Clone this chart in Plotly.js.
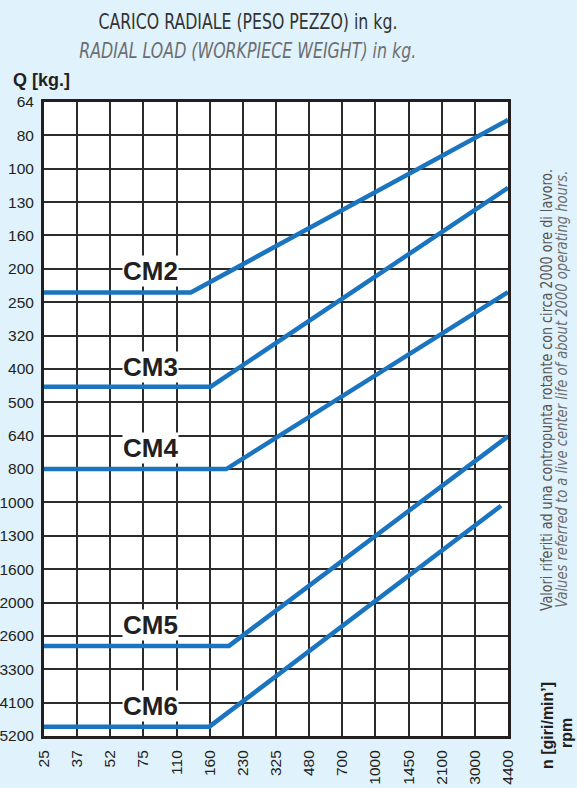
<!DOCTYPE html>
<html>
<head>
<meta charset="utf-8">
<script src="https://cdn.plot.ly/plotly-3.0.1.min.js"></script>
<style>
html,body{margin:0;padding:0;background:#e0f2fb;}
#chart{width:577px;height:788px;}
</style>
</head>
<body>
<div id="chart"></div>
<script>
// Speed ticks (rpm), evenly spaced
const rpmLabels = ['25','37','52','75','110','160','230','325','480','700','1000','1450','2100','3000','4400'];
// Load ticks (kg), evenly spaced, top to bottom
const loadLabels = ['64','80','100','130','160','200','250','320','400','500','640','800','1000','1300','1600','2000','2600','3300','4100','5200'];

// Curves, in positions on the tick scales (0 = first tick)
const cm2X = [0, 4.43, 14];
const cm2Y = [5.71, 5.71, 0.54];
const cm3X = [0, 5.03, 14];
const cm3Y = [8.53, 8.53, 2.57];
const cm4X = [0, 5.5, 14];
const cm4Y = [11.0, 11.0, 5.7];
const cm5X = [0, 5.58, 14];
const cm5Y = [16.3, 16.3, 10.02];
const cm6X = [0, 4.99, 13.79];
const cm6Y = [18.72, 18.72, 12.1];

const curveNames = ['CM2','CM3','CM4','CM5','CM6'];
const curveXs = [cm2X, cm3X, cm4X, cm5X, cm6X];
const curveYs = [cm2Y, cm3Y, cm4Y, cm5Y, cm6Y];
const labelX = [3.2, 3.2, 3.2, 3.2, 3.2];
const labelY = [5.06, 7.94, 10.37, 15.67, 18.1];

const blue = '#1a74bf';
const traces = curveNames.map((n, i) => ({
  type: 'scatter', mode: 'lines', name: n,
  x: curveXs[i], y: curveYs[i],
  line: {color: blue, width: 4.5}, hoverinfo: 'skip'
}));

const narrow = '"Liberation Sans Narrow", "DejaVu Sans Condensed", "Liberation Sans", sans-serif';
const sans = '"Liberation Sans", Arial, sans-serif';

const annotations = curveNames.map((n, i) => ({
  x: labelX[i], y: labelY[i], xref: 'x', yref: 'y',
  text: '<b>' + n + '</b>', showarrow: false,
  font: {family: sans, size: 26, color: '#231f20'},
  bgcolor: '#ffffff', borderpad: 0
}));

annotations.push(
  {xref: 'paper', yref: 'paper', x: 0.44, y: 1, yshift: 81, xanchor: 'center', yanchor: 'middle',
   text: 'CARICO RADIALE (PESO PEZZO) in kg.', showarrow: false,
   font: {family: narrow, size: 22, color: '#333333'}},
  {xref: 'paper', yref: 'paper', x: 0.44, y: 1, yshift: 52, xanchor: 'center', yanchor: 'middle',
   text: '<i>RADIAL LOAD (WORKPIECE WEIGHT) in kg.</i>', showarrow: false,
   font: {family: narrow, size: 22, color: '#6d6e71'}},
  {xref: 'paper', yref: 'paper', x: 0, xshift: -33, y: 1, yshift: 22, xanchor: 'left', yanchor: 'middle',
   text: '<b>Q [kg.]</b>', showarrow: false,
   font: {family: sans, size: 18, color: '#231f20'}},
  {xref: 'paper', yref: 'paper', x: 1, xshift: 39, y: 0.546, xanchor: 'center', yanchor: 'middle',
   text: 'Valori riferiti ad una contropunta rotante con circa 2000 ore di lavoro.', showarrow: false, textangle: -90,
   font: {family: narrow, size: 15, color: '#555555'}},
  {xref: 'paper', yref: 'paper', x: 1, xshift: 54, y: 0.546, xanchor: 'center', yanchor: 'middle',
   text: '<i>Values referred to a live center life of about 2000 operating hours.</i>', showarrow: false, textangle: -90,
   font: {family: narrow, size: 15, color: '#6d6e71'}},
  {xref: 'paper', yref: 'paper', x: 1, xshift: 39, y: 0, yshift: 10, xanchor: 'center', yanchor: 'middle',
   text: '<b>n [giri/min’]</b>', showarrow: false, textangle: -90,
   font: {family: sans, size: 16, color: '#231f20'}},
  {xref: 'paper', yref: 'paper', x: 1, xshift: 58, y: 0, yshift: 3, xanchor: 'center', yanchor: 'middle',
   text: '<b>rpm</b>', showarrow: false, textangle: -90,
   font: {family: sans, size: 16, color: '#231f20'}}
);

const layout = {
  width: 577, height: 788,
  paper_bgcolor: '#e0f2fb', plot_bgcolor: '#ffffff',
  margin: {l: 44, r: 69, t: 102, b: 52, pad: 0},
  showlegend: false,
  xaxis: {
    range: [0, 14], tickvals: rpmLabels.map((_, i) => i), ticktext: rpmLabels,
    tickangle: -90, showgrid: true, gridcolor: '#2b2b2b', gridwidth: 2,
    zeroline: false, showline: true, mirror: true, linecolor: '#231f20', linewidth: 3,
    ticks: '', ticklabelstandoff: 5,
    tickfont: {family: sans, size: 15.5, color: '#231f20'}, fixedrange: true
  },
  yaxis: {
    range: [19, 0], tickvals: loadLabels.map((_, i) => i), ticktext: loadLabels,
    showgrid: true, gridcolor: '#2b2b2b', gridwidth: 2,
    zeroline: false, showline: true, mirror: true, linecolor: '#231f20', linewidth: 3,
    ticks: '', ticklabelstandoff: 4,
    tickfont: {family: sans, size: 15.5, color: '#231f20'}, fixedrange: true
  },
  annotations: annotations
};

Plotly.newPlot('chart', traces, layout, {displayModeBar: false, staticPlot: true}).then(gd => {
  // squeeze the condensed texts to the reference widths
  const targets = {
    'CARICO RADIALE': 299, 'RADIAL LOAD': 337, 'Valori riferiti': 442, 'Values referred': 437
  };
  gd.querySelectorAll('.annotation-text').forEach(t => {
    const s = t.textContent;
    Object.keys(targets).forEach(k => {
      if (s.indexOf(k) === 0) {
        t.setAttribute('textLength', targets[k]);
        t.setAttribute('lengthAdjust', 'spacingAndGlyphs');
      }
    });
  });
});
</script>
</body>
</html>
